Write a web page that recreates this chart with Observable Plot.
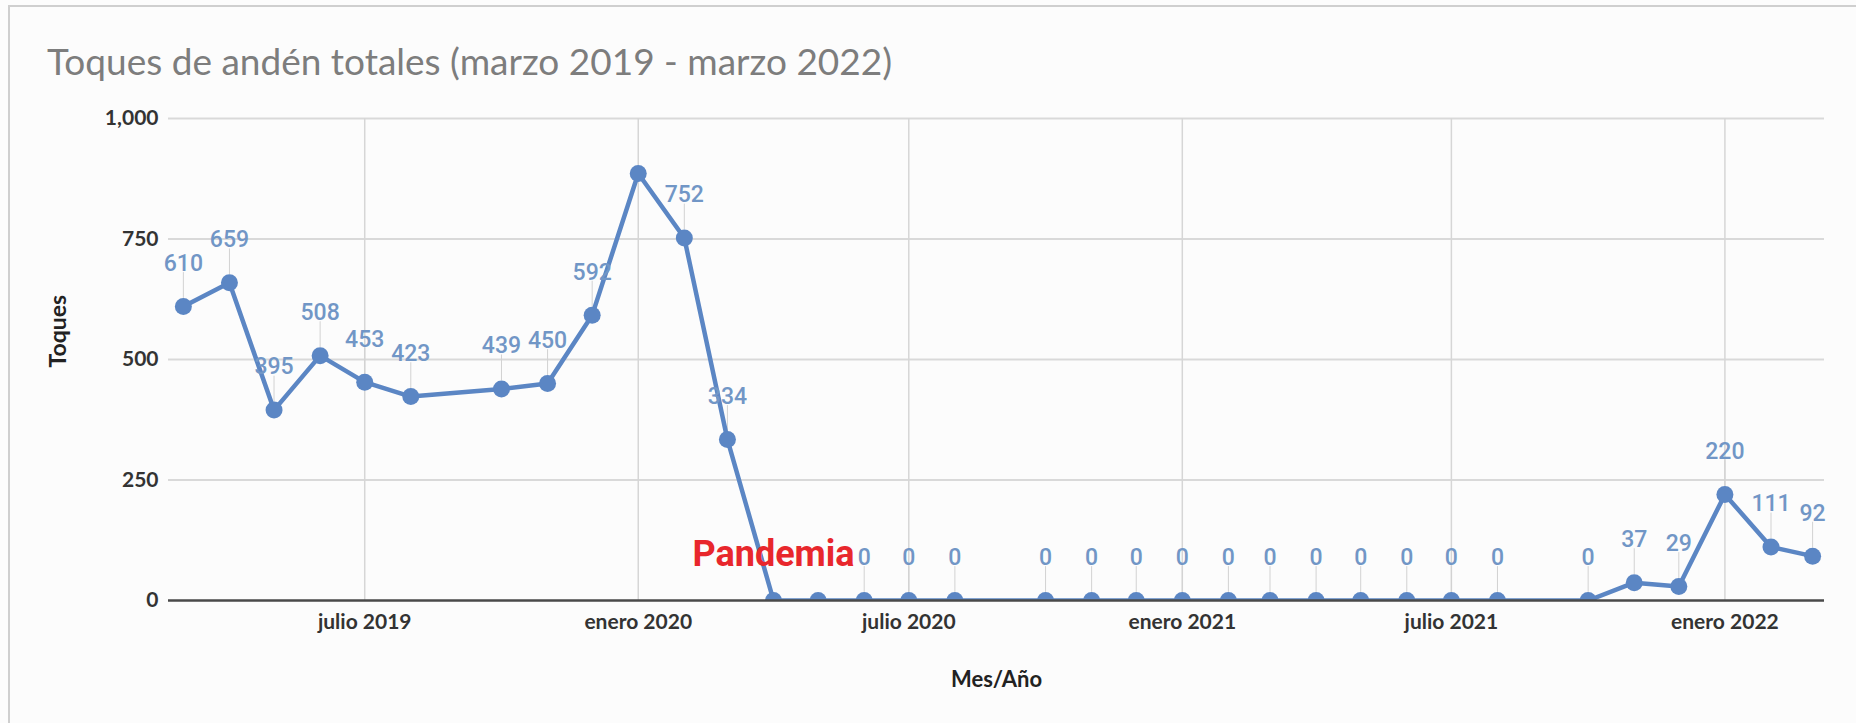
<!DOCTYPE html>
<html>
<head>
<meta charset="utf-8">
<script src="https://cdn.jsdelivr.net/npm/d3@7"></script>
<script src="https://cdn.jsdelivr.net/npm/@observablehq/plot@0.6"></script>
<style>
  html, body { margin: 0; padding: 0; background: #fcfcfc; }
  #wrap { position: relative; width: 1856px; height: 723px; overflow: hidden; }
  #frame { position: absolute; left: 8px; top: 5px; right: -10px; bottom: -10px;
           border-top: 2px solid #cfcfcf; border-left: 2px solid #cfcfcf; }
  #title { position: absolute; left: 47px; top: 42px; font-family: Lato, sans-serif;
           font-size: 37px; line-height: 1; color: #7d7d7d; white-space: nowrap; }
  #chart { position: absolute; left: 0; top: 0; }
</style>
</head>
<body>
<div id="wrap">
  <div id="frame"></div>
  <div id="chart"></div>
  <div id="title">Toques de andén totales (marzo 2019 - marzo 2022)</div>
</div>
<script>
// ---- data ----
const months = ["2019-03","2019-04","2019-05","2019-06","2019-07","2019-08",
  "2019-10","2019-11","2019-12","2020-01","2020-02","2020-03","2020-04","2020-05",
  "2020-06","2020-07","2020-08","2020-10","2020-11","2020-12","2021-01","2021-02",
  "2021-03","2021-04","2021-05","2021-06","2021-07","2021-08","2021-10","2021-11",
  "2021-12","2022-01","2022-02","2022-03"];
const values = [610,659,395,508,453,423,
  439,450,592,886,752,334,0,0,
  0,0,0,0,0,0,0,0,
  0,0,0,0,0,0,0,37,
  29,220,111,92];
// data labels shown in the chart (null = not shown)
const labels = ["610","659","395","508","453","423",
  "439","450","592",null,"752","334",null,null,
  "0","0","0","0","0","0","0","0",
  "0","0","0","0","0","0","0","37",
  "29","220","111","92"];
const annotationMonth = ["2020-04"];
const annotationText = ["Pandemia"];
const xTickMonths = ["2019-07","2020-01","2020-07","2021-01","2021-07","2022-01"];
const xTickLabels = ["julio 2019","enero 2020","julio 2020","enero 2021","julio 2021","enero 2022"];
const yTicks = [0, 250, 500, 750, 1000];
const xDomain = ["2019-02-19", "2022-03-09"];

// ---- build ----
const parseM = d3.utcParse("%Y-%m");
const data = months.map((m, i) => ({date: parseM(m), value: values[i], label: labels[i]}));
const labeled = data.filter(d => d.label !== null);
const ann = annotationMonth.map((m, i) => {
  const dt = parseM(m);
  const v = data.find(d => +d.date === +dt).value;
  return {date: dt, value: v, text: annotationText[i]};
});
const xTicks = xTickMonths.map(parseM);
const tickLabel = new Map(xTicks.map((d, i) => [+d, xTickLabels[i]]));

const blue = "#5b86c4";
const labelBlue = "#7196c6";

const chart = Plot.plot({
  width: 1856,
  height: 723,
  marginTop: 118,
  marginBottom: 123,
  marginLeft: 168,
  marginRight: 32,
  style: {background: "transparent", fontFamily: "Lato, sans-serif"},
  x: {type: "utc", domain: xDomain.map(d3.utcParse("%Y-%m-%d"))},
  y: {domain: [0, 1000]},
  marks: [
    Plot.gridY(yTicks.filter(d => d > 0), {stroke: "#d9d9d9", strokeOpacity: 1, strokeWidth: 2}),
    Plot.gridX(xTicks, {stroke: "#d6d6d6", strokeOpacity: 1, strokeWidth: 1.5}),
    Plot.axisY({ticks: yTicks, tickFormat: d3.format(","), tickSize: 0, tickPadding: 10,
      fontSize: 21, fontWeight: "bold", fill: "#333", label: null}),
    Plot.axisX({ticks: xTicks, tickFormat: d => tickLabel.get(+d), tickSize: 0, tickPadding: 14,
      fontSize: 21, fontWeight: "bold", fill: "#333", label: null}),
    Plot.vector(labeled, {x: "date", y: "value", length: 25, rotate: 0, anchor: "start", dy: -9,
      stroke: "#d2d2d2", strokeWidth: 1,
      shape: {draw(ctx, l) { ctx.moveTo(0, 0); ctx.lineTo(0, -l); }}}),
    Plot.line(data, {x: "date", y: "value", stroke: blue, strokeWidth: 4.5, clip: true}),
    Plot.dot(data, {x: "date", y: "value", r: 8.5, fill: blue, clip: true}),
    Plot.ruleY([0], {stroke: "#4a4a4a", strokeWidth: 2.5}),
    Plot.text(labeled, {x: "date", y: "value", text: "label", dy: -43, fill: labelBlue,
      fontFamily: "Roboto", fontSize: 23, fontWeight: 500}),
    Plot.text(ann, {x: "date", y: "value", text: "text", dy: -46, fill: "#e8272c",
      fontFamily: "Roboto", fontSize: 36, fontWeight: 700}),
    Plot.text(["Toques"], {frameAnchor: "left", rotate: -90, dx: -110, dy: 8,
      fontSize: 23, fontWeight: "bold", fill: "#222"}),
    Plot.text(["Mes/Año"], {frameAnchor: "bottom", dy: 86,
      fontSize: 22, fontWeight: "bold", fill: "#222"})
  ]
});
document.getElementById("chart").appendChild(chart);
</script>
</body>
</html>
